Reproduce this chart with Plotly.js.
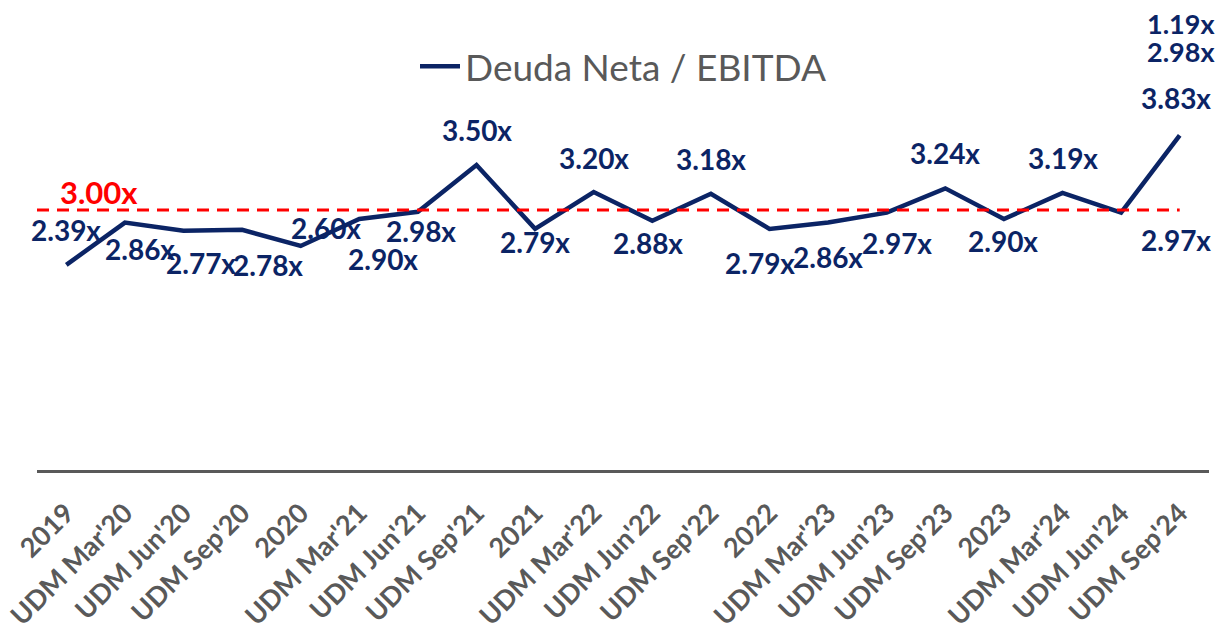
<!DOCTYPE html>
<html>
<head>
<meta charset="utf-8">
<script src="https://cdn.plot.ly/plotly-3.0.1.min.js"></script>
<style>html,body{margin:0;padding:0;background:#fff;}#chart{width:1218px;height:644px;}</style>
</head>
<body>
<div id="chart"></div>
<script>
const categories = ["2019","UDM Mar'20","UDM Jun'20","UDM Sep'20","2020","UDM Mar'21","UDM Jun'21","UDM Sep'21","2021","UDM Mar'22","UDM Jun'22","UDM Sep'22","2022","UDM Mar'23","UDM Jun'23","UDM Sep'23","2023","UDM Mar'24","UDM Jun'24","UDM Sep'24"];
const deudaNetaEbitda = [2.39,2.86,2.77,2.78,2.60,2.90,2.98,3.50,2.79,3.20,2.88,3.18,2.79,2.86,2.97,3.24,2.90,3.19,2.97,3.83];
const valueLabels = ["2.39x","2.86x","2.77x","2.78x","2.60x","2.90x","2.98x","3.50x","2.79x","3.20x","2.88x","3.18x","2.79x","2.86x","2.97x","3.24x","2.90x","3.19x","2.97x","3.83x"];
const covenantLevel = 3.00;
const covenantLabel = "3.00x";
const extraLabels = ["1.19x","2.98x"];
const seriesName = "Deuda Neta / EBITDA";

// label offsets in pixels (x, y) relative to each point
const labelOffsets = [[0,35],[15,-26],[17,-32],[26,-35],[25,18],[24,-40],[3,-19],[0,35],[0,-13],[0,34],[-4,-22],[0,35],[-10,-34],[0,-34],[10,-30],[0,35],[-1,-22],[0,35],[55,-27],[-4,37]];
// paper-y positions of the extra stacked labels
const extraLabelY = [1.206, 1.130];

const navy = "#0b2465";
const font = "Lato, 'Open Sans', sans-serif";

// category axis: annotations are placed by category index
const annotations = valueLabels.map((t,i)=>({
  xref:'x', yref:'y', x: i, y: deudaNetaEbitda[i],
  text: t, showarrow:false, xshift: labelOffsets[i][0], yshift: labelOffsets[i][1],
  font:{family:font, size:28, color:navy, weight:'bold'}
}));
annotations.push({xref:'x', yref:'y', x: 0, y: covenantLevel, text: covenantLabel,
  showarrow:false, xshift:33, yshift:18, font:{family:font, size:31, color:'#ff0000', weight:'bold'}});
extraLabels.forEach((t,i)=>annotations.push({xref:'paper', yref:'paper', x:0.976, y:extraLabelY[i], text:t,
  xanchor:'center', yanchor:'middle',
  showarrow:false, font:{family:font, size:27, color:navy, weight:'bold'}}));

const trace = {
  x: categories, y: deudaNetaEbitda, type:'scatter', mode:'lines', name: seriesName,
  line:{color:navy, width:4.5}, hoverinfo:'skip'
};

const layout = {
  width:1218, height:644,
  margin:{l:37, r:9, t:100, b:174},
  paper_bgcolor:'#fff', plot_bgcolor:'#fff',
  showlegend:true,
  legend:{orientation:'h', x:0.5, xanchor:'center', y:1.09, yanchor:'middle',
    font:{family:font, size:37, color:'#595959'}, itemwidth:40},
  xaxis:{type:'category', range:[-0.5,19.5], showline:true, linecolor:'#595959', linewidth:2.5,
    showgrid:false, zeroline:false, ticks:'outside', ticklen:14, tickcolor:'rgba(0,0,0,0)', tickangle:-45,
    tickfont:{family:font, size:27, color:'#595959', weight:'bold'}},
  yaxis:{range:[0.111,4.222], visible:false, showgrid:false, zeroline:false},
  shapes:[{type:'line', xref:'x', yref:'y', x0:-0.5, x1:19, y0:covenantLevel, y1:covenantLevel,
    line:{color:'#ff0000', width:3, dash:'12px,8px'}}],
  annotations: annotations
};

Plotly.newPlot('chart', [trace], layout, {displayModeBar:false, staticPlot:true});
</script>
</body>
</html>
